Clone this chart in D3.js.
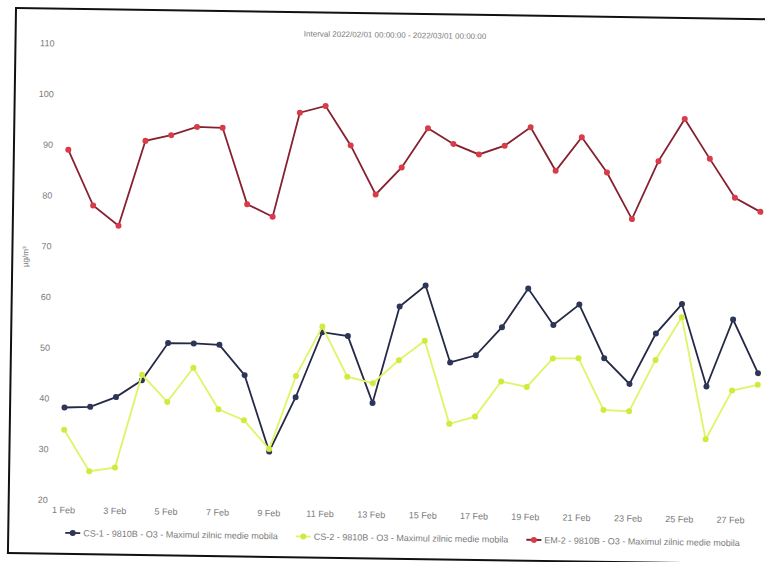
<!DOCTYPE html>
<html>
<head>
<meta charset="utf-8">
<script src="https://cdn.jsdelivr.net/npm/d3@7"></script>
<style>
  body { margin: 0; background: #fff; }
  text { font-family: "Liberation Sans", Arial, sans-serif; }
</style>
</head>
<body>
<div id="chart"></div>
<script>
// days of February 2022
const days = [1, 2, 3, 4, 5, 6, 7, 8, 9, 10, 11, 12, 13, 14,
              15, 16, 17, 18, 19, 20, 21, 22, 23, 24, 25, 26, 27, 28];
const tickDays = [1, 3, 5, 7, 9, 11, 13, 15, 17, 19, 21, 23, 25, 27];
const yTicks = [20, 30, 40, 50, 60, 70, 80, 90, 100, 110];

const cs1 = [38.2, 38.4, 40.4, 43.8, 51.2, 51.2, 51.0, 45.1, 30.1, 40.9, 53.8, 53.1, 40.0, 59.1,
             63.3, 48.2, 49.7, 55.3, 63.0, 55.9, 60.0, 49.5, 44.5, 54.5, 60.4, 44.2, 57.5, 47.0];
const cs2 = [33.8, 25.7, 26.5, 44.9, 39.6, 46.4, 38.3, 36.2, 30.6, 45.1, 54.9, 45.1, 43.9, 48.5,
             52.4, 36.1, 37.6, 44.6, 43.6, 49.3, 49.4, 39.3, 39.1, 49.3, 57.8, 33.8, 43.5, 44.7];
const em2 = [89.0, 78.1, 74.2, 91.0, 92.2, 93.9, 93.8, 78.8, 76.4, 97.0, 98.4, 90.7, 81.1, 86.5,
             94.3, 91.3, 89.3, 91.1, 94.8, 86.3, 93.0, 86.1, 77.0, 88.5, 96.9, 89.1, 81.5, 78.8];

const seriesNames = [
  "CS-1 - 9810B - O3 - Maximul zilnic medie mobila",
  "CS-2 - 9810B - O3 - Maximul zilnic medie mobila",
  "EM-2 - 9810B - O3 - Maximul zilnic medie mobila"
];
const chartTitle = "Interval 2022/02/01 00:00:00 - 2022/03/01 00:00:00";
const yTitle = "µg/m³";

function renderChart() {
  const width = 765, height = 562;
  const textColor = "#7a7a7a";

  const svg = d3.select("#chart")
    .append("svg")
    .attr("width", width)
    .attr("height", height);

  // the printed sheet sits a little crooked in the scan
  const g = svg.append("g")
    .attr("transform", "rotate(0.85,382,281)");

  // paper frame
  g.append("rect")
    .attr("x", 12).attr("y", 13.5)
    .attr("width", 900).attr("height", 545)
    .attr("fill", "none")
    .attr("stroke", "#111")
    .attr("stroke-width", 2);

  const x = d3.scaleLinear().domain([1, 28]).range([66.4, 759.3]);
  const y = d3.scaleLinear().domain([20, 110]).range([504.5, 48]);

  // y axis labels
  const yAxis = g.append("g")
    .attr("transform", "translate(51,0)")
    .call(d3.axisLeft(y).tickValues(yTicks).tickSize(0).tickPadding(0));
  yAxis.select(".domain").remove();
  yAxis.selectAll("text")
    .attr("fill", textColor)
    .style("font-size", "9px")
    .style("font-family", "'Liberation Sans', Arial, sans-serif");

  // x axis labels
  const xAxis = g.append("g")
    .attr("transform", "translate(0,504.5)")
    .call(d3.axisBottom(x).tickValues(tickDays).tickFormat(d => d + " Feb").tickSize(0).tickPadding(7));
  xAxis.select(".domain").remove();
  xAxis.selectAll("text")
    .attr("fill", textColor)
    .style("font-size", "9px")
    .style("font-family", "'Liberation Sans', Arial, sans-serif");

  // title
  g.append("text")
    .attr("x", 391.4).attr("y", 34.8)
    .attr("dy", "0.35em")
    .attr("text-anchor", "middle")
    .attr("fill", textColor)
    .style("font-size", "8px")
    .text(chartTitle);

  // y title
  g.append("text")
    .attr("transform", "translate(25,262) rotate(-90)")
    .attr("dy", "0.35em")
    .attr("text-anchor", "middle")
    .attr("fill", textColor)
    .style("font-size", "8px")
    .text(yTitle);

  const series = [
    {name: seriesNames[0], values: cs1, line: "#242946", dot: "#2d3558"},
    {name: seriesNames[1], values: cs2, line: "#e0f466", dot: "#d2ea3e"},
    {name: seriesNames[2], values: em2, line: "#862131", dot: "#d93b49"}
  ];

  const line = d3.line()
    .x((d, i) => x(days[i]))
    .y(d => y(d));

  series.forEach(function(s) {
    g.append("path")
      .datum(s.values)
      .attr("d", line)
      .attr("fill", "none")
      .attr("stroke", s.line)
      .attr("stroke-width", 1.8);
    g.append("g")
      .selectAll("circle")
      .data(s.values)
      .enter()
      .append("circle")
      .attr("cx", (d, i) => x(days[i]))
      .attr("cy", d => y(d))
      .attr("r", 3)
      .attr("fill", s.dot);
  });

  // legend
  const legend = g.append("g").attr("transform", "translate(0,537.6)");
  let lx = 69;
  series.forEach(function(s) {
    const item = legend.append("g").attr("transform", `translate(${lx},0)`);
    item.append("line")
      .attr("x1", 0).attr("x2", 15)
      .attr("stroke", s.line).attr("stroke-width", 1.8);
    item.append("circle")
      .attr("cx", 7.5).attr("r", 3).attr("fill", s.dot);
    const t = item.append("text")
      .attr("x", 18).attr("dy", "0.35em")
      .attr("fill", textColor)
      .style("font-size", "9px")
      .text(s.name);
    lx += 18 + t.node().getComputedTextLength() + 18;
  });
}

renderChart();
</script>
</body>
</html>
